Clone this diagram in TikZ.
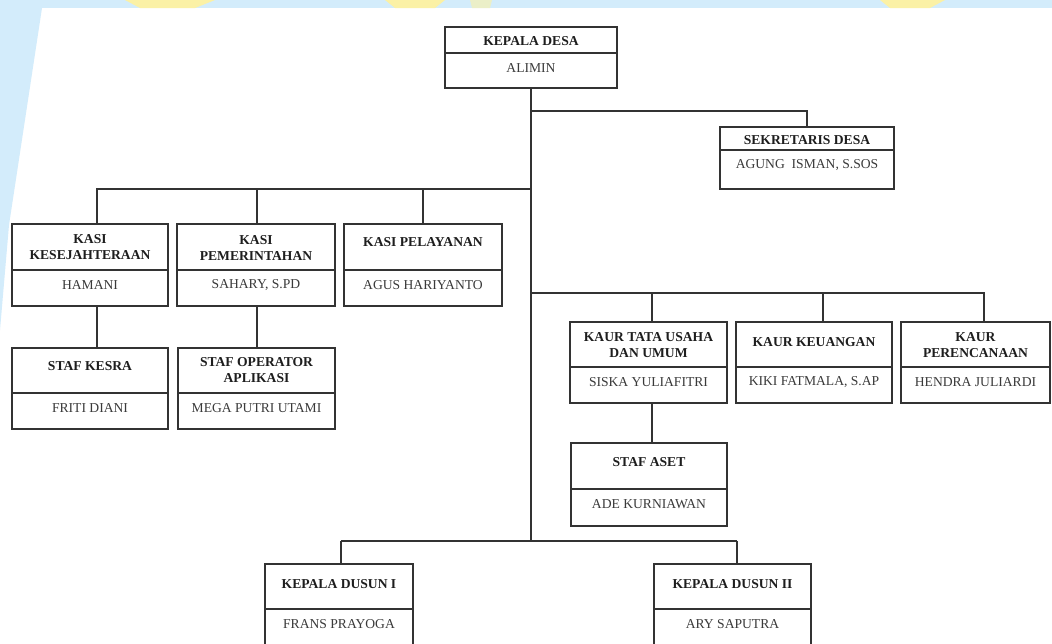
\documentclass[tikz,border=0pt]{standalone}
\usepackage{fontspec}
\setmainfont{Liberation Serif}
\definecolor{wmblue}{HTML}{D3ECFB}
\definecolor{wmyellow}{HTML}{FBF1A6}
\definecolor{lineclr}{HTML}{333333}
\definecolor{hdrclr}{HTML}{1E1E1E}
\definecolor{nameclr}{HTML}{3A3A3A}
\tikzset{
  obox/.style={draw=lineclr, line width=1.3pt, rectangle, inner sep=0pt, fill=white},
  oline/.style={draw=lineclr, line width=1.3pt},
  conn/.style={draw=lineclr, line width=1.3pt},
  hdr/.style={font=\fontsize{13.6}{16}\selectfont\bfseries, text=hdrclr, align=center, inner sep=0pt},
  nm/.style={font=\fontsize{13.6}{16}\selectfont, text=nameclr, align=center, inner sep=0pt},
}
% #1 node name, #2 x1, #3 y1, #4 x2, #5 y2, #6 divider y, #7 header y, #8 header, #9 person
\newcommand\OrgBox[9]{%
  \node[obox, minimum width={#4-#2}, minimum height={#5-#3}] (#1) at ({(#2+#4)/2},{(#3+#5)/2}) {};
  \draw[oline] (#1.west |- 0,#6) -- (#1.east |- 0,#6);
  \node[hdr] (#1-h) at ({(#2+#4)/2},#7) {#8};
  \node[nm] (#1-n) at ({(#2+#4)/2},{#6+15.5}) {#9};
}
\begin{document}
\begin{tikzpicture}[x=1pt,y=-1pt]
\useasboundingbox (0,0) rectangle (1052,643);
\clip (0,0) rectangle (1052,643);
\fill[white] (0,0) rectangle (1052,643);
% watermark background
\fill[wmblue] (0,0) rectangle (1052,8);
\fill[wmblue] (0,8) -- (42,8) -- (9,225) -- (0,330) -- cycle;
\fill[wmyellow] (125,0) -- (215,0) -- (195,8) -- (140,8) -- cycle;
\fill[wmyellow] (385,0) -- (445,0) -- (435,8) -- (395,8) -- cycle;
\fill[wmyellow!60!wmblue] (470,0) -- (492,0) -- (490,8) -- (472,8) -- cycle;
\fill[wmyellow] (880,0) -- (945,0) -- (930,8) -- (890,8) -- cycle;

% boxes
\OrgBox{kd}{445}{27}{617}{88}{53}{41}{KEPALA DESA}{ALIMIN}
\OrgBox{sek}{720}{127}{894}{189}{150}{140}{SEKRETARIS DESA}{AGUNG\ \ ISMAN, S.SOS}

\OrgBox{ks}{12}{224}{168}{306}{270}{247.5}{KASI\\KESEJAHTERAAN}{HAMANI}
\OrgBox{kp}{177}{224}{335}{306}{270}{247.5}{KASI\\PEMERINTAHAN}{SAHARY, S.PD}
\OrgBox{kpl}{344}{224}{502}{306}{270}{242}{KASI PELAYANAN}{AGUS HARIYANTO}

\OrgBox{sk}{12}{348}{168}{429}{393}{366}{STAF KESRA}{FRITI DIANI}
\OrgBox{so}{178}{348}{335}{429}{393}{370}{STAF OPERATOR\\APLIKASI}{MEGA PUTRI UTAMI}

\OrgBox{ktu}{570}{322}{727}{403}{367}{345}{KAUR TATA USAHA\\DAN UMUM}{SISKA YULIAFITRI}
\OrgBox{kk}{736}{322}{892}{403}{367}{342}{KAUR KEUANGAN}{KIKI FATMALA, S.AP}
\OrgBox{kpr}{901}{322}{1050}{403}{367}{345}{KAUR\\PERENCANAAN}{HENDRA JULIARDI}

\OrgBox{sa}{571}{443}{727}{526}{489}{462}{STAF ASET}{ADE KURNIAWAN}

\OrgBox{kd1}{265}{564}{413}{670}{609}{584}{KEPALA DUSUN I}{FRANS PRAYOGA}
\OrgBox{kd2}{654}{564}{811}{670}{609}{584}{KEPALA DUSUN II}{ARY SAPUTRA}

% connectors
\coordinate (b1) at (531,111);
\coordinate (b2) at (531,189);
\coordinate (b3) at (531,293);
\coordinate (b4) at (531,541);
\coordinate (v1) at (97,189);
\coordinate (v2) at (257,189);
\coordinate (v3) at (423,189);
\coordinate (w1) at (652,293);
\coordinate (w2) at (823,293);
\coordinate (w3) at (984,293);
\coordinate (d1) at (341,541);
\coordinate (d2) at (737,541);

\draw[conn] (kd.south) -- (b4);
\draw[conn] (b1) -| (sek.north);
\draw[conn] (b2) -- (v1) -- (v1 |- ks.north);
\draw[conn] (v2) -- (v2 |- kp.north);
\draw[conn] (v3) -- (v3 |- kpl.north);
\draw[conn] (v1 |- ks.south) -- (v1 |- sk.north);
\draw[conn] (v2 |- kp.south) -- (v2 |- so.north);
\draw[conn] (b3) -- (w3) -- (w3 |- kpr.north);
\draw[conn] (w1) -- (w1 |- ktu.north);
\draw[conn] (w2) -- (w2 |- kk.north);
\draw[conn] (w1 |- ktu.south) -- (w1 |- sa.north);
\draw[conn] (d1) -- (d2);
\draw[conn] (d1) -- (d1 |- kd1.north);
\draw[conn] (d2) -- (d2 |- kd2.north);
\end{tikzpicture}
\end{document}
